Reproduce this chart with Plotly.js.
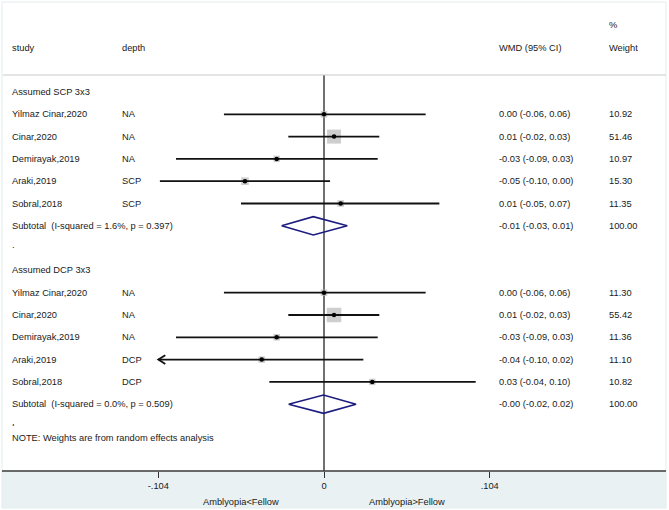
<!DOCTYPE html>
<html><head><meta charset="utf-8">
<script src="https://cdn.plot.ly/plotly-3.0.1.min.js"></script>
<style>html,body{margin:0;padding:0;background:#fff}</style>
</head><body>
<div id="chart" style="width:669px;height:510px"></div>
<script>
// ---- data ----
const studies = ["Yilmaz Cinar,2020","Cinar,2020","Demirayak,2019","Araki,2019","Sobral,2018"];
const scpDepth = ["NA","NA","NA","SCP","SCP"];
const dcpDepth = ["NA","NA","NA","DCP","DCP"];
const scpEst = [0.000, 0.0063, -0.0297, -0.0496, 0.0105];
const scpLo  = [-0.0628, -0.0224, -0.0929, -0.1030, -0.0521];
const scpHi  = [0.0638, 0.0347, 0.0337, 0.0038, 0.0724];
const scpWeight = [10.92, 51.46, 10.97, 15.30, 11.35];
const scpCI = ["0.00 (-0.06, 0.06)","0.01 (-0.02, 0.03)","-0.03 (-0.09, 0.03)","-0.05 (-0.10, 0.00)","0.01 (-0.05, 0.07)"];
const dcpEst = [0.000, 0.0063, -0.0297, -0.0391, 0.0303];
const dcpLo  = [-0.0628, -0.0224, -0.0929, -0.1060, -0.0343];
const dcpHi  = [0.0638, 0.0347, 0.0337, 0.0247, 0.0952];
const dcpWeight = [11.30, 55.42, 11.36, 11.10, 10.82];
const dcpCI = ["0.00 (-0.06, 0.06)","0.01 (-0.02, 0.03)","-0.03 (-0.09, 0.03)","-0.04 (-0.10, 0.02)","0.03 (-0.04, 0.10)"];
const scpSubtotal = {est: -0.0067, lo: -0.0266, hi: 0.0146, label: "Subtotal  (I-squared = 1.6%, p = 0.397)", ci: "-0.01 (-0.03, 0.01)", w: "100.00"};
const dcpSubtotal = {est: -0.0003, lo: -0.0222, hi: 0.0201, label: "Subtotal  (I-squared = 0.0%, p = 0.509)", ci: "-0.00 (-0.02, 0.02)", w: "100.00"};
const groupTitles = ["Assumed SCP 3x3", "Assumed DCP 3x3"];
const tickVals = [-0.104, 0, 0.104];
const tickText = ["-.104", "0", ".104"];
const axisLabels = ["Amblyopia<Fellow", "Amblyopia>Fellow"];
const note = "NOTE: Weights are from random effects analysis";

// ---- layout constants ----
const W = 669, H = 510, plotH = 471;
const rowTop = 92, rowStep = 22.3;
const xmin = -324/1593.3, xmax = 345/1593.3;
const clipMin = -0.104;
const FONT = {family: "Liberation Sans, Arial, sans-serif", size: 9.3, color: "#1a1a1a"};
const px = v => v / W;
const py = v => (plotH - v) / plotH;
const rowOfPx = v => (v - rowTop) / rowStep;

const groups = [
  {title: groupTitles[0], depth: scpDepth, est: scpEst, lo: scpLo, hi: scpHi, w: scpWeight, ci: scpCI, sub: scpSubtotal, start: 0},
  {title: groupTitles[1], depth: dcpDepth, est: dcpEst, lo: dcpLo, hi: dcpHi, w: dcpWeight, ci: dcpCI, sub: dcpSubtotal, start: 8}
];

const traces = [];
const annotations = [];
const lineX = [], lineY = [], sqX = [], sqY = [], sqS = [], arrX = [], arrY = [];
const maxW = 55.42;
const TX = 1.5; // annotation padding compensation
function txt(text, xpx, row, extra) {
  annotations.push(Object.assign({text, xref: "paper", yref: "y", x: px(xpx - TX), y: row,
    xanchor: "left", yanchor: "middle", showarrow: false, font: FONT}, extra || {}));
}
// headers
txt("study", 11, rowOfPx(48));
txt("depth", 121, rowOfPx(48));
txt("WMD (95% CI)", 498, rowOfPx(48));
txt("%", 608, rowOfPx(25));
txt("Weight", 608, rowOfPx(48));

groups.forEach(g => {
  txt(g.title, 11, g.start);
  studies.forEach((s, i) => {
    const r = g.start + 1 + i;
    txt(s, 11, r);
    txt(g.depth[i], 121, r);
    txt(g.ci[i], 498, r);
    txt(g.w[i].toFixed(2), 608, r);
    const lo = Math.max(g.lo[i], clipMin);
    lineX.push(lo, g.hi[i], null); lineY.push(r, r, null);
    if (g.lo[i] < clipMin) {
      const d = 7/1593.3;
      arrX.push(clipMin + d, clipMin, clipMin + d, null);
      arrY.push(r - 0.2, r, r + 0.2, null);
    }
    sqX.push(g.est[i]); sqY.push(r); sqS.push(14.5 * Math.sqrt(g.w[i] / maxW));
  });
  const sr = g.start + 6;
  txt(g.sub.label, 11, sr);
  txt(g.sub.ci, 498, sr);
  txt(g.sub.w, 608, sr);
  traces.push({type: "scatter", mode: "lines", x: [g.sub.lo, g.sub.est, g.sub.hi, g.sub.est, g.sub.lo],
    y: [sr, sr - 0.41, sr, sr + 0.41, sr], line: {color: "#1c1c80", width: 1.6}, hoverinfo: "skip", showlegend: false});
  txt(".", 11, g.start + 7 - 0.15);
});
annotations.push({text: ".", xref: "paper", yref: "paper", x: px(11 - TX), y: py(422), xanchor: "left", yanchor: "middle", showarrow: false, font: FONT});
annotations.push({text: note, xref: "paper", yref: "paper", x: px(11 - TX), y: py(438), xanchor: "left", yanchor: "middle", showarrow: false, font: FONT});
annotations.push({text: axisLabels[0], xref: "x", yref: "paper", x: -0.052, y: py(502), xanchor: "center", yanchor: "middle", showarrow: false, font: FONT});
annotations.push({text: axisLabels[1], xref: "x", yref: "paper", x: 0.052, y: py(502), xanchor: "center", yanchor: "middle", showarrow: false, font: FONT});

traces.push({type: "scatter", mode: "lines", x: lineX, y: lineY, line: {color: "#111", width: 1.8}, hoverinfo: "skip", showlegend: false});
traces.push({type: "scatter", mode: "lines", x: arrX, y: arrY, line: {color: "#111", width: 1.8}, hoverinfo: "skip", showlegend: false});
traces.unshift({type: "scatter", mode: "markers", x: sqX, y: sqY, marker: {symbol: "square", size: sqS, color: "#b9b9b9", line: {width: 0}}, hoverinfo: "skip", showlegend: false});
traces.push({type: "scatter", mode: "markers", x: sqX, y: sqY, marker: {symbol: "circle", size: 4.5, color: "#000"}, hoverinfo: "skip", showlegend: false});

const shapes = [
  {type: "rect", xref: "paper", yref: "paper", x0: px(2), x1: px(666), y0: py(471), y1: py(508), fillcolor: "#e9f1f3", line: {width: 0}, layer: "below"},
  {type: "rect", xref: "paper", yref: "paper", x0: px(2), x1: px(666), y0: py(508), y1: py(2), fillcolor: "rgba(0,0,0,0)", line: {color: "#e2ecee", width: 1}, layer: "below"},
  {type: "line", xref: "paper", yref: "paper", x0: px(3), x1: px(666), y0: py(75), y1: py(75), line: {color: "#c9c9c9", width: 1.2}},
  {type: "line", xref: "x", yref: "paper", x0: 0, x1: 0, y0: py(75), y1: py(471), line: {color: "#111", width: 1.2}, layer: "below"},
  {type: "line", xref: "paper", yref: "paper", x0: px(2), x1: px(666), y0: py(471), y1: py(471), line: {color: "#3a3a3a", width: 1.6}}
];

const layout = {
  width: W, height: H,
  margin: {l: 0, r: 0, t: 0, b: H - plotH, pad: 0},
  paper_bgcolor: "#fff", plot_bgcolor: "rgba(0,0,0,0)",
  showlegend: false,
  font: FONT,
  xaxis: {range: [xmin, xmax], showgrid: false, zeroline: false, showline: false,
    tickmode: "array", tickvals: tickVals, ticktext: tickText, ticks: "outside", ticklen: 6,
    tickcolor: "#333", tickwidth: 1, tickfont: FONT, fixedrange: true},
  yaxis: {range: [rowOfPx(plotH), rowOfPx(0)], showgrid: false, zeroline: false, showline: false,
    showticklabels: false, ticks: "", fixedrange: true},
  shapes, annotations
};
Plotly.newPlot("chart", traces, layout, {staticPlot: true, displayModeBar: false});
</script>
</body></html>
